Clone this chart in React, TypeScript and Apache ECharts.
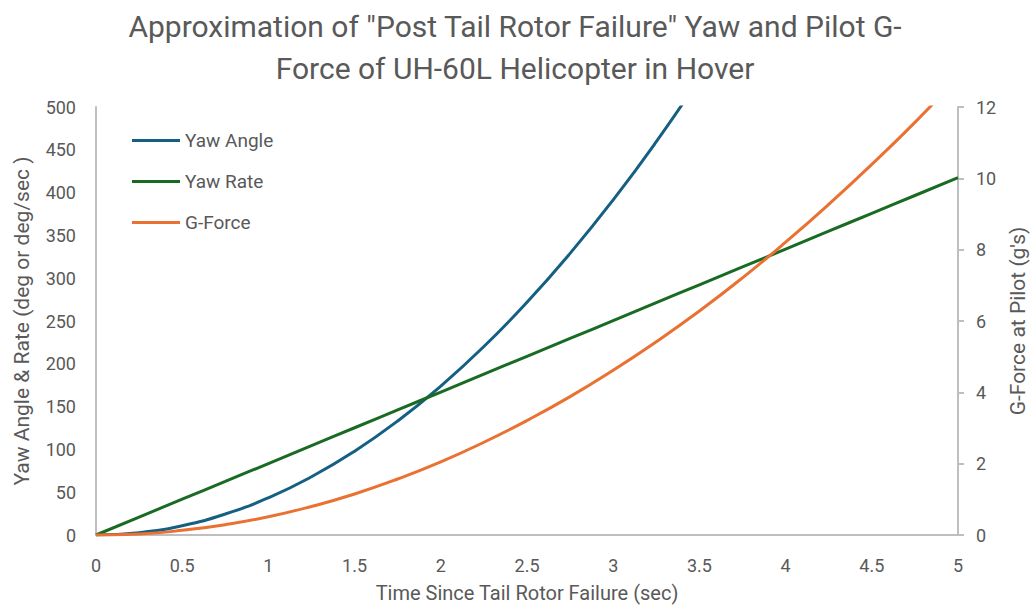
import React, { useEffect, useRef } from "react";
import * as echarts from "echarts";

const timeSec = [0, 0.25, 0.5, 0.75, 1, 1.25, 1.5, 1.75, 2, 2.25, 2.5, 2.75, 3, 3.25, 3.5, 3.75, 4, 4.25, 4.5, 4.75, 5];
const yawAngle = [0, 2.7, 10.9, 24.5, 43.5, 68, 97.9, 133.2, 174, 220.2, 271.9, 329, 391.5, 459.5, 532.9];
const yawRate = [0, 20.9, 41.8, 62.6, 83.5, 104.4, 125.3, 146.1, 167, 187.9, 208.8, 229.6, 250.5, 271.4, 292.3, 313.1, 334, 354.9, 375.8, 396.6, 417.5];
const gForce = [0, 0.03, 0.13, 0.29, 0.51, 0.8, 1.15, 1.57, 2.05, 2.6, 3.21, 3.88, 4.62, 5.42, 6.28, 7.21, 8.21, 9.27, 10.39, 11.57, 12.83];

const titleText = 'Approximation of "Post Tail Rotor Failure" Yaw and Pilot G-\nForce of UH-60L Helicopter in Hover';
const xName = "Time Since Tail Rotor Failure (sec)";
const yLeftName = "Yaw Angle & Rate (deg or deg/sec )";
const yRightName = "G-Force at Pilot (g's)";
const legendNames = ["Yaw Angle", "Yaw Rate", "G-Force"];

const pairs = (vals: number[]) => vals.map((v, i) => [timeSec[i], v]);

const TEXT = "#595959";
const AXIS = "#bfbfbf";
const FONT = "Roboto, 'Open Sans', sans-serif";

export default function App() {
  const ref = useRef<HTMLDivElement>(null);
  useEffect(() => {
    if (!ref.current) return;
    const chart = echarts.init(ref.current, null, { renderer: "svg" });
    chart.setOption({
      animation: false,
      backgroundColor: "#ffffff",
      textStyle: { fontFamily: FONT },
      title: {
        text: titleText,
        left: "center",
        top: 0,
        textStyle: { fontFamily: FONT, fontSize: 30, fontWeight: "normal", color: TEXT, lineHeight: 42 },
      },
      legend: {
        orient: "vertical",
        left: 127,
        top: 126,
        itemWidth: 48,
        itemHeight: 3,
        itemGap: 22,
        icon: "rect",
        textStyle: { fontFamily: FONT, fontSize: 19, color: TEXT },
        data: legendNames,
      },
      grid: { left: 96, right: 72, top: 107, bottom: 72, containLabel: false, outerBoundsMode: "none" },
      xAxis: {
        type: "value",
        min: 0,
        max: 5,
        interval: 0.5,
        name: xName,
        nameLocation: "middle",
        nameGap: 48,
        nameTextStyle: { fontFamily: FONT, fontSize: 20, color: TEXT },
        axisLine: { show: true, lineStyle: { color: AXIS, width: 2 } },
        axisTick: { show: false },
        splitLine: { show: false },
        axisLabel: { fontFamily: FONT, fontSize: 18, color: TEXT, margin: 21 },
      },
      yAxis: [
        {
          type: "value",
          min: 0,
          max: 500,
          interval: 50,
          position: "left",
          name: yLeftName,
          nameLocation: "middle",
          nameRotate: 90,
          nameGap: 64,
          nameTextStyle: { fontFamily: FONT, fontSize: 21, color: TEXT },
          axisLine: { show: true, lineStyle: { color: AXIS, width: 2 } },
          axisTick: { show: false },
          splitLine: { show: false },
          axisLabel: { fontFamily: FONT, fontSize: 18, color: TEXT, margin: 20 },
        },
        {
          type: "value",
          min: 0,
          max: 12,
          interval: 2,
          position: "right",
          name: yRightName,
          nameLocation: "middle",
          nameRotate: 90,
          nameGap: 49,
          nameTextStyle: { fontFamily: FONT, fontSize: 21, color: TEXT },
          axisLine: { show: true, lineStyle: { color: AXIS, width: 2 } },
          axisTick: { show: true, length: 6, lineStyle: { color: AXIS, width: 2 } },
          splitLine: { show: false },
          axisLabel: { fontFamily: FONT, fontSize: 18, color: TEXT, margin: 18 },
        },
      ],
      series: [
        {
          name: legendNames[0],
          type: "line",
          yAxisIndex: 0,
          data: pairs(yawAngle),
          smooth: true,
          symbol: "none",
          clip: true,
          color: "#156082",
          lineStyle: { width: 3, color: "#156082" },
        },
        {
          name: legendNames[1],
          type: "line",
          yAxisIndex: 0,
          data: pairs(yawRate),
          smooth: true,
          symbol: "none",
          clip: true,
          color: "#196B24",
          lineStyle: { width: 3, color: "#196B24" },
        },
        {
          name: legendNames[2],
          type: "line",
          yAxisIndex: 1,
          data: pairs(gForce),
          smooth: true,
          symbol: "none",
          clip: true,
          color: "#E97132",
          lineStyle: { width: 3, color: "#E97132" },
        },
      ],
    });
    return () => chart.dispose();
  }, []);
  return <div ref={ref} style={{ position: "fixed", left: 0, top: 0, width: 1030, height: 607 }} />;
}
